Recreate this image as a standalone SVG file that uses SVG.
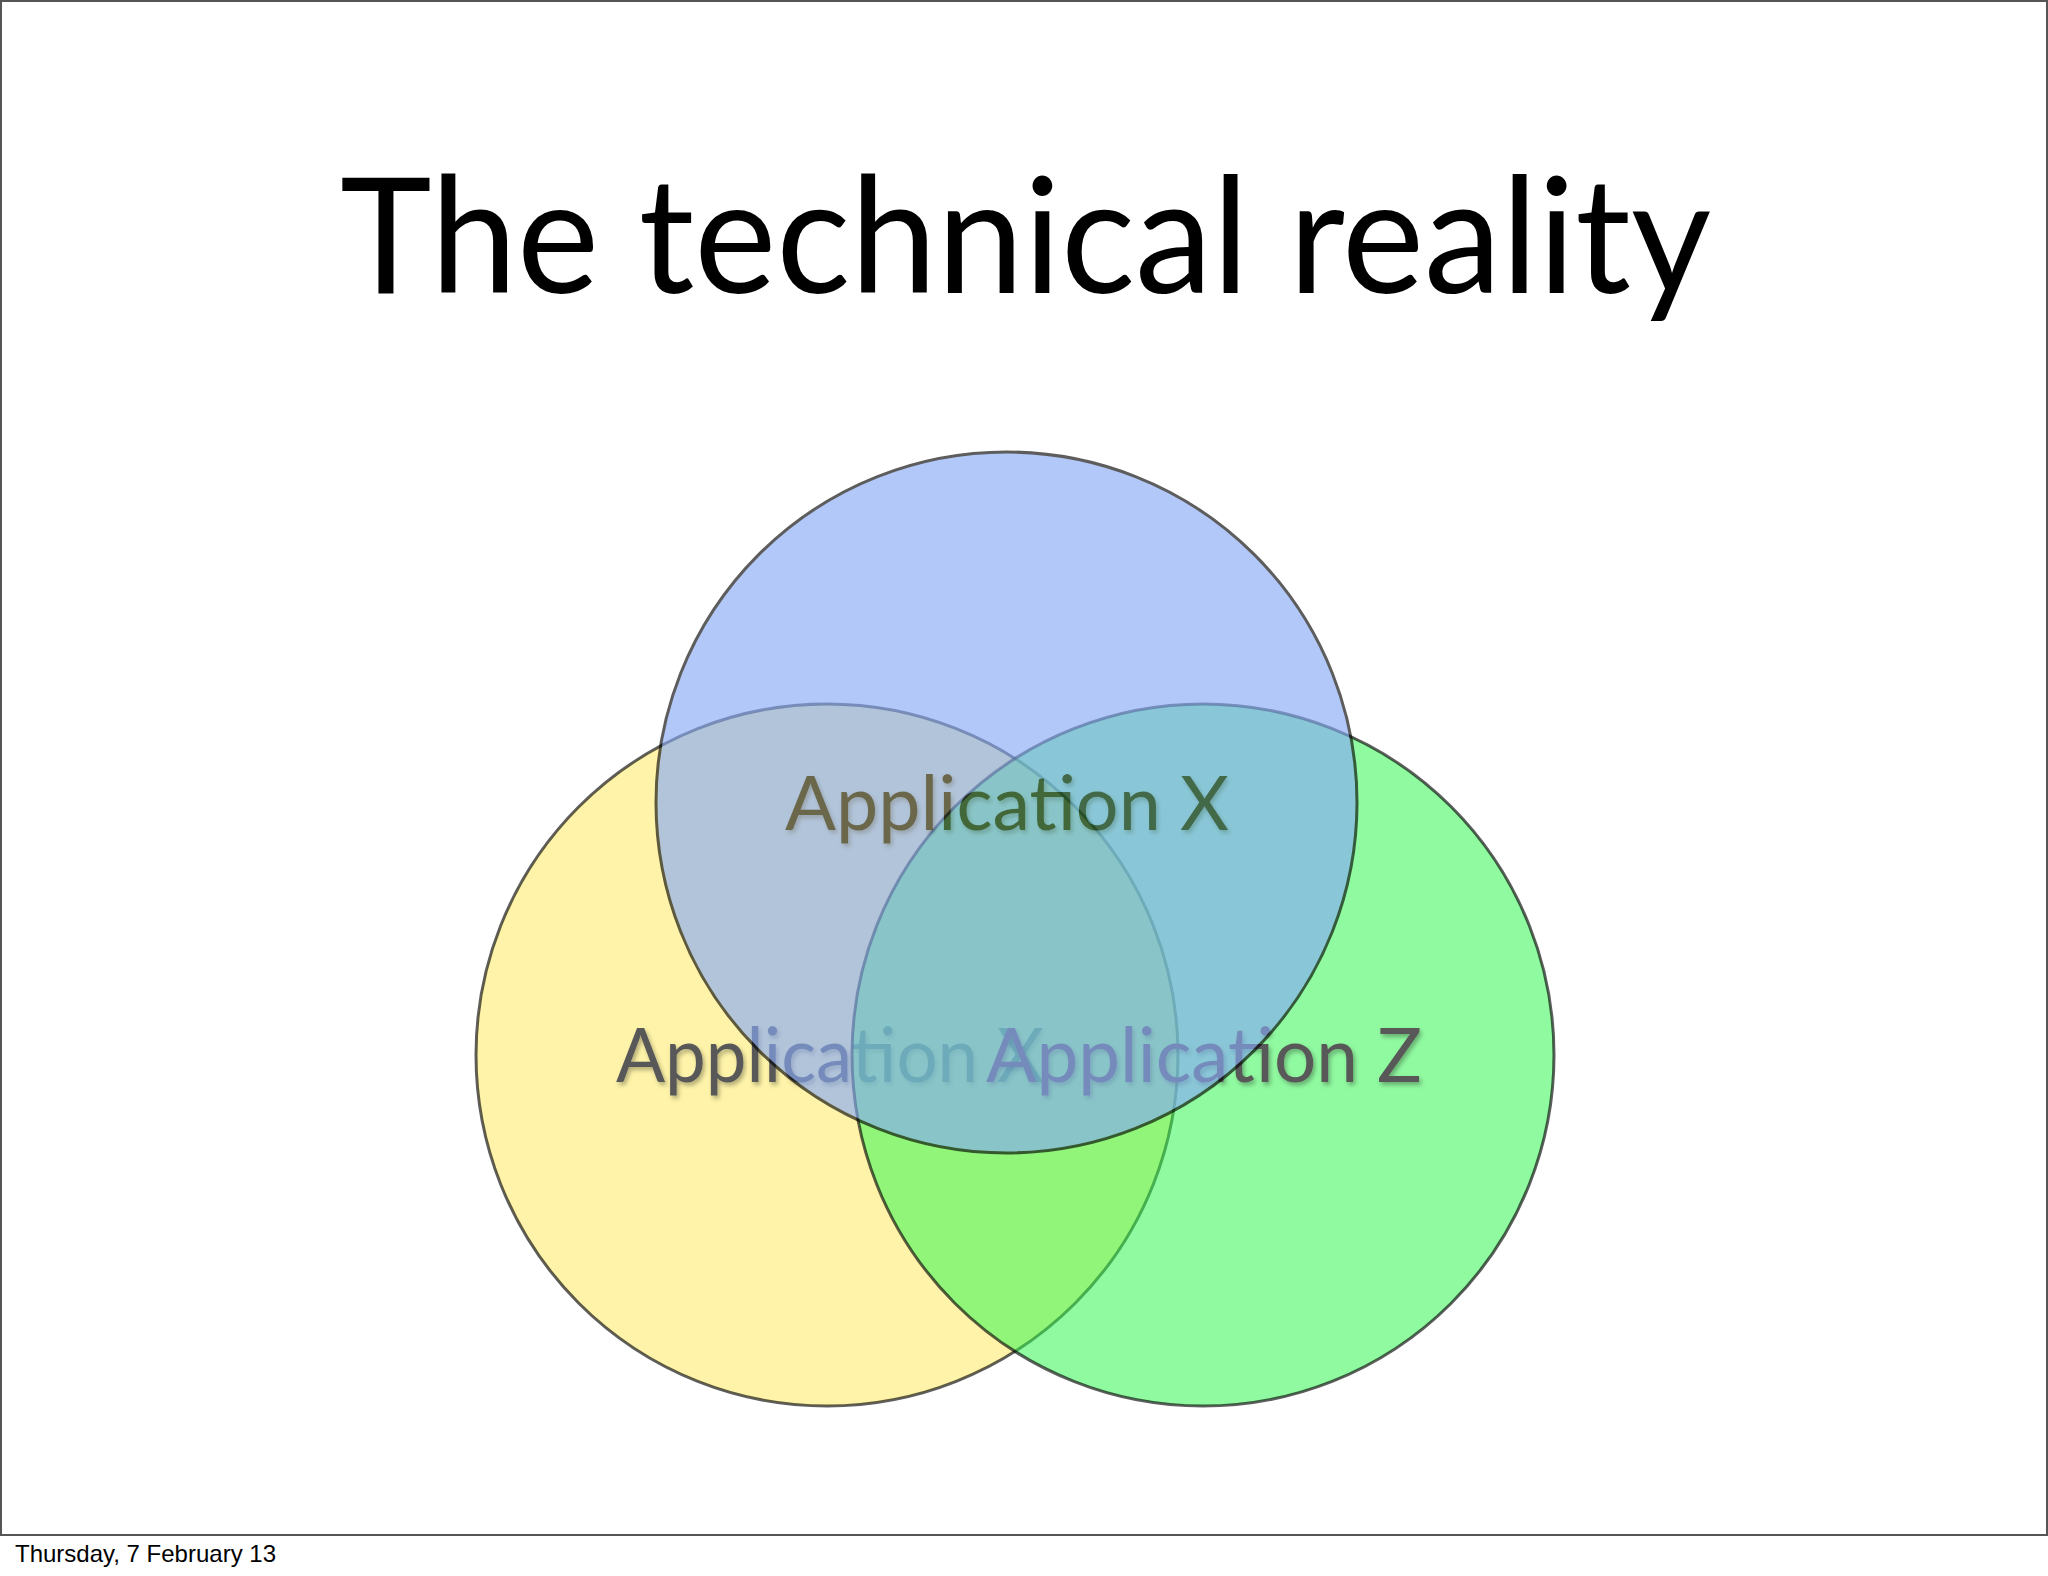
<svg xmlns="http://www.w3.org/2000/svg" width="2048" height="1576" viewBox="0 0 2048 1576">
  <defs>
    <filter id="shadow" x="-10%" y="-30%" width="120%" height="160%">
      <feDropShadow dx="2" dy="3" stdDeviation="2" flood-color="#000" flood-opacity="0.3"/>
    </filter>
  </defs>
  <style>
    .title { font-family: Lato, "Open Sans", "Liberation Sans", sans-serif; font-size: 162px; fill: #000; }
    .label { font-family: Lato, "Open Sans", "Liberation Sans", sans-serif; font-size: 76px; }
    .footer { font-family: "Liberation Sans", Arial, sans-serif; font-size: 24px; fill: #000; }
    .ring { stroke: #000; stroke-opacity: 0.63; stroke-width: 3; }
  </style>
  <rect x="0" y="0" width="2048" height="1576" fill="#fff"/>
  <rect x="1" y="1" width="2046" height="1534" fill="none" stroke="#555" stroke-width="2"/>
  <text class="title" x="340" y="293" textLength="1371" lengthAdjust="spacingAndGlyphs">The technical reality</text>

  <g id="circle-yellow">
    <circle class="ring" cx="827" cy="1055" r="351" fill="#fef3a8"/>
    <text class="label" x="616" y="1082" fill="#595959" filter="url(#shadow)" textLength="428" lengthAdjust="spacingAndGlyphs">Application X</text>
  </g>

  <g id="circle-green">
    <circle class="ring" cx="1203" cy="1055" r="351" fill="rgb(49,246,79)" fill-opacity="0.54"/>
    <text class="label" x="986" y="1082" fill="#595959" filter="url(#shadow)" textLength="436" lengthAdjust="spacingAndGlyphs">Application Z</text>
  </g>

  <g id="circle-blue" opacity="0.63">
    <circle cx="1006.5" cy="802.5" r="350.5" fill="rgb(134,169,247)" stroke="#000" stroke-width="3"/>
    <text class="label" x="785" y="830" fill="#141414" filter="url(#shadow)" textLength="444" lengthAdjust="spacingAndGlyphs">Application X</text>
  </g>

  <g id="connectors"></g>

  <text class="footer" x="15" y="1562">Thursday, 7 February 13</text>
</svg>
